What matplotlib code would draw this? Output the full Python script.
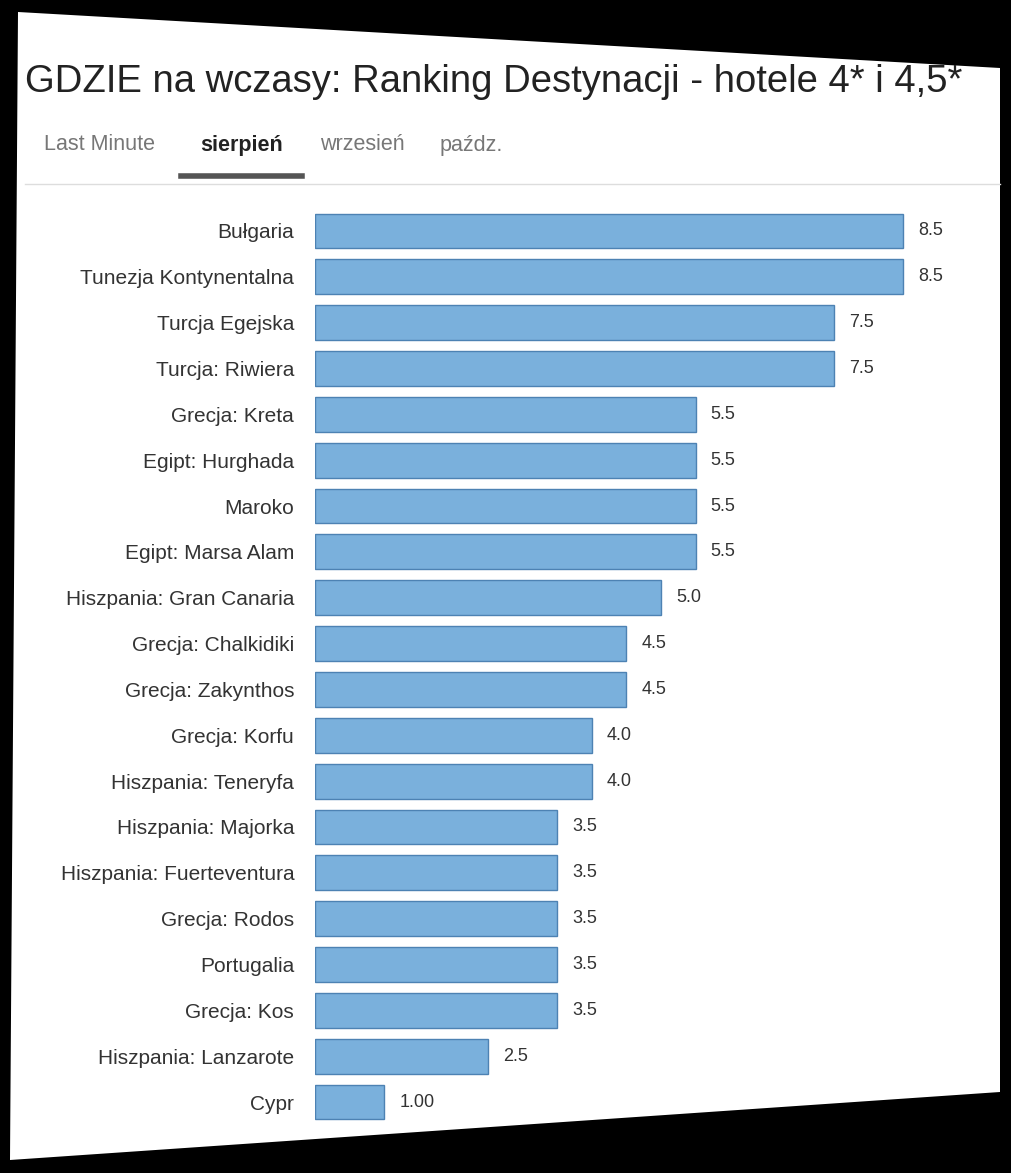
import matplotlib.pyplot as plt
from matplotlib.patches import Polygon
from matplotlib.lines import Line2D

plt.rcParams['font.family'] = ['Liberation Sans', 'DejaVu Sans']

# dane
kraje = ['Bułgaria', 'Tunezja Kontynentalna', 'Turcja Egejska', 'Turcja: Riwiera',
         'Grecja: Kreta', 'Egipt: Hurghada', 'Maroko', 'Egipt: Marsa Alam',
         'Hiszpania: Gran Canaria', 'Grecja: Chalkidiki', 'Grecja: Zakynthos',
         'Grecja: Korfu', 'Hiszpania: Teneryfa', 'Hiszpania: Majorka',
         'Hiszpania: Fuerteventura', 'Grecja: Rodos', 'Portugalia', 'Grecja: Kos',
         'Hiszpania: Lanzarote', 'Cypr']
oceny = [8.5, 8.5, 7.5, 7.5, 5.5, 5.5, 5.5, 5.5, 5.0, 4.5, 4.5, 4.0, 4.0,
         3.5, 3.5, 3.5, 3.5, 3.5, 2.5, 1.0]
etykiety = ['8.5', '8.5', '7.5', '7.5', '5.5', '5.5', '5.5', '5.5', '5.0', '4.5',
            '4.5', '4.0', '4.0', '3.5', '3.5', '3.5', '3.5', '3.5', '2.5', '1.00']
zakladki = ['Last Minute', 'sierpień', 'wrzesień', 'paźdz.']

W, H = 1011, 1173
fig = plt.figure(figsize=(W / 100, H / 100), dpi=100, facecolor='black')

def fx(x):
    return x / W

def fy(y):
    return 1 - y / H

# biała "kartka"
rogi = [(18, 12), (1000, 68), (1000, 1092), (10, 1160)]
fig.patches.append(Polygon([(fx(x), fy(y)) for x, y in rogi], closed=True,
                           transform=fig.transFigure, facecolor='white',
                           edgecolor='none', zorder=-5))

# tytuł i zakładki
fig.text(fx(25), fy(82), 'GDZIE na wczasy: Ranking Destynacji - hotele 4* i 4,5*',
         fontsize=27.5, color='#222222', va='center', ha='left')
tab_x = [44, 200, 320, 440]
for nazwa, x in zip(zakladki, tab_x):
    aktywna = nazwa == 'sierpień'
    fig.text(fx(x), fy(145), nazwa, fontsize=15.5,
             color='#222222' if aktywna else '#777777',
             fontweight='bold' if aktywna else 'normal', va='center', ha='left')
fig.lines.append(Line2D([fx(25), fx(1000)], [fy(184), fy(184)],
                        transform=fig.transFigure, color='#dddddd', linewidth=1))
fig.lines.append(Line2D([fx(181), fx(302)], [fy(176), fy(176)],
                        transform=fig.transFigure, color='#555555', linewidth=4))

# wykres słupkowy
ax = fig.add_axes([fx(315), fy(1125), fx(1000) - fx(315), fy(208) - fy(1125)])
ax.set_facecolor('none')
y = list(range(len(kraje)))
ax.barh(y, oceny, height=0.76, color='#7ab0dc', edgecolor='#4d82b3', linewidth=1)
for yi, v, t in zip(y, oceny, etykiety):
    ax.text(v + 0.22, yi, t, va='center', ha='left', fontsize=13, color='#333333')
ax.set_xlim(0, 9.9)
ax.set_ylim(len(kraje) - 0.5, -0.5)
ax.set_yticks(y)
ax.set_yticklabels(kraje, fontsize=15, color='#333333')
ax.tick_params(axis='y', length=0, pad=15)
ax.set_xticks([])
for s in ax.spines.values():
    s.set_visible(False)

fig.savefig('out.png', dpi=100, facecolor='black')
